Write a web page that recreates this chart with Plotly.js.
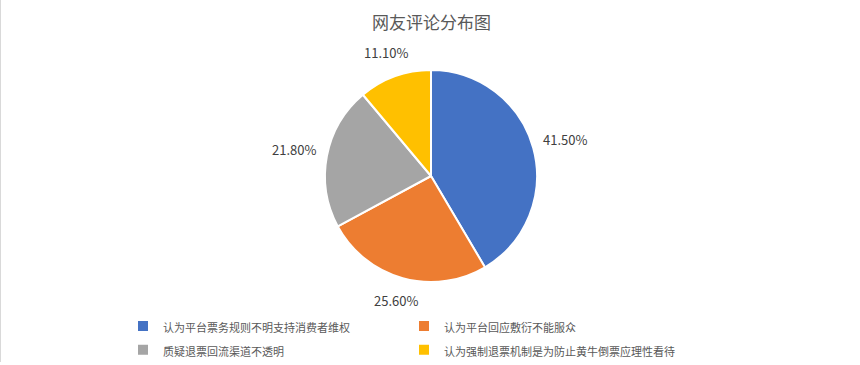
<!DOCTYPE html>
<html>
<head>
<meta charset="utf-8">
<script src="https://cdn.plot.ly/plotly-3.0.1.min.js"></script>
<style>
html,body{margin:0;padding:0;background:#fff;}
#chart{width:859px;height:362px;border-left:1px solid #d9d9d9;}
</style>
</head>
<body>
<div id="chart"></div>
<script>
const title = '网友评论分布图';
const categories = ['认为平台票务规则不明支持消费者维权','认为平台回应敷衍不能服众','质疑退票回流渠道不透明','认为强制退票机制是为防止黄牛倒票应理性看待'];
const values = [41.5, 25.6, 21.8, 11.1];
const colors = ['#4472C4','#ED7D31','#A5A5A5','#FFC000'];

const W = 859, H = 362;
const ML = 80, MR = 80;
const PW = W - ML - MR;
const cx = 430, cy = 176, r = 106;
const gap = 10, halfW = 22, halfH = 8;

const total = values.reduce((a,b)=>a+b,0);
let cum = 0;
const annotations = values.map(v => {
  const mid = (cum + v/2) / total;
  cum += v;
  const th = mid * 2 * Math.PI;
  const s = Math.sin(th), c = Math.cos(th);
  const d = r + gap + Math.abs(s) * halfW + Math.abs(c) * halfH;
  const px = cx + d * s;
  const py = cy - d * c;
  return {
    xref:'paper', yref:'paper', x: (px - ML) / PW, y: 1 - py / H,
    xanchor:'center', yanchor:'middle', showarrow:false,
    text: v.toFixed(2) + '%',
    font:{family:'"Noto Sans CJK SC","Noto Sans",sans-serif', size:13, color:'#404040'}
  };
});
annotations.push({
  xref:'paper', yref:'paper', x: (430 - ML)/PW, y: 1 - 22/H, xanchor:'center', yanchor:'middle',
  showarrow:false, text:title,
  font:{family:'"Noto Sans CJK SC",sans-serif', size:17, color:'#595959'}
});

const data = [{
  type:'pie',
  labels: categories.map(c => '<span style="font-size:11px">' + c + '</span>'),
  values: values,
  sort:false,
  direction:'clockwise',
  rotation:0,
  marker:{colors:colors, line:{color:'#ffffff', width:2}},
  textinfo:'none',
  hoverinfo:'label+percent',
  domain:{x:[(cx-r-ML)/PW,(cx+r-ML)/PW], y:[1-(cy+r)/H, 1-(cy-r)/H]}
}];

const layout = {
  width: W, height: H,
  margin:{l:ML,r:MR,t:0,b:0, autoexpand:false},
  paper_bgcolor:'#ffffff',
  font:{family:'"Noto Sans CJK SC",sans-serif', color:'#595959'},
  showlegend:true,
  legend:{
    orientation:'h', xanchor:'left', yanchor:'top',
    xref:'container', yref:'container',
    x: 122/W, y: 1 - 309/H,
    entrywidth: 236,
    font:{size:16, color:'#595959'},
    traceorder:'normal'
  },
  annotations: annotations
};

Plotly.newPlot('chart', data, layout, {displayModeBar:false, staticPlot:true});
</script>
</body>
</html>
